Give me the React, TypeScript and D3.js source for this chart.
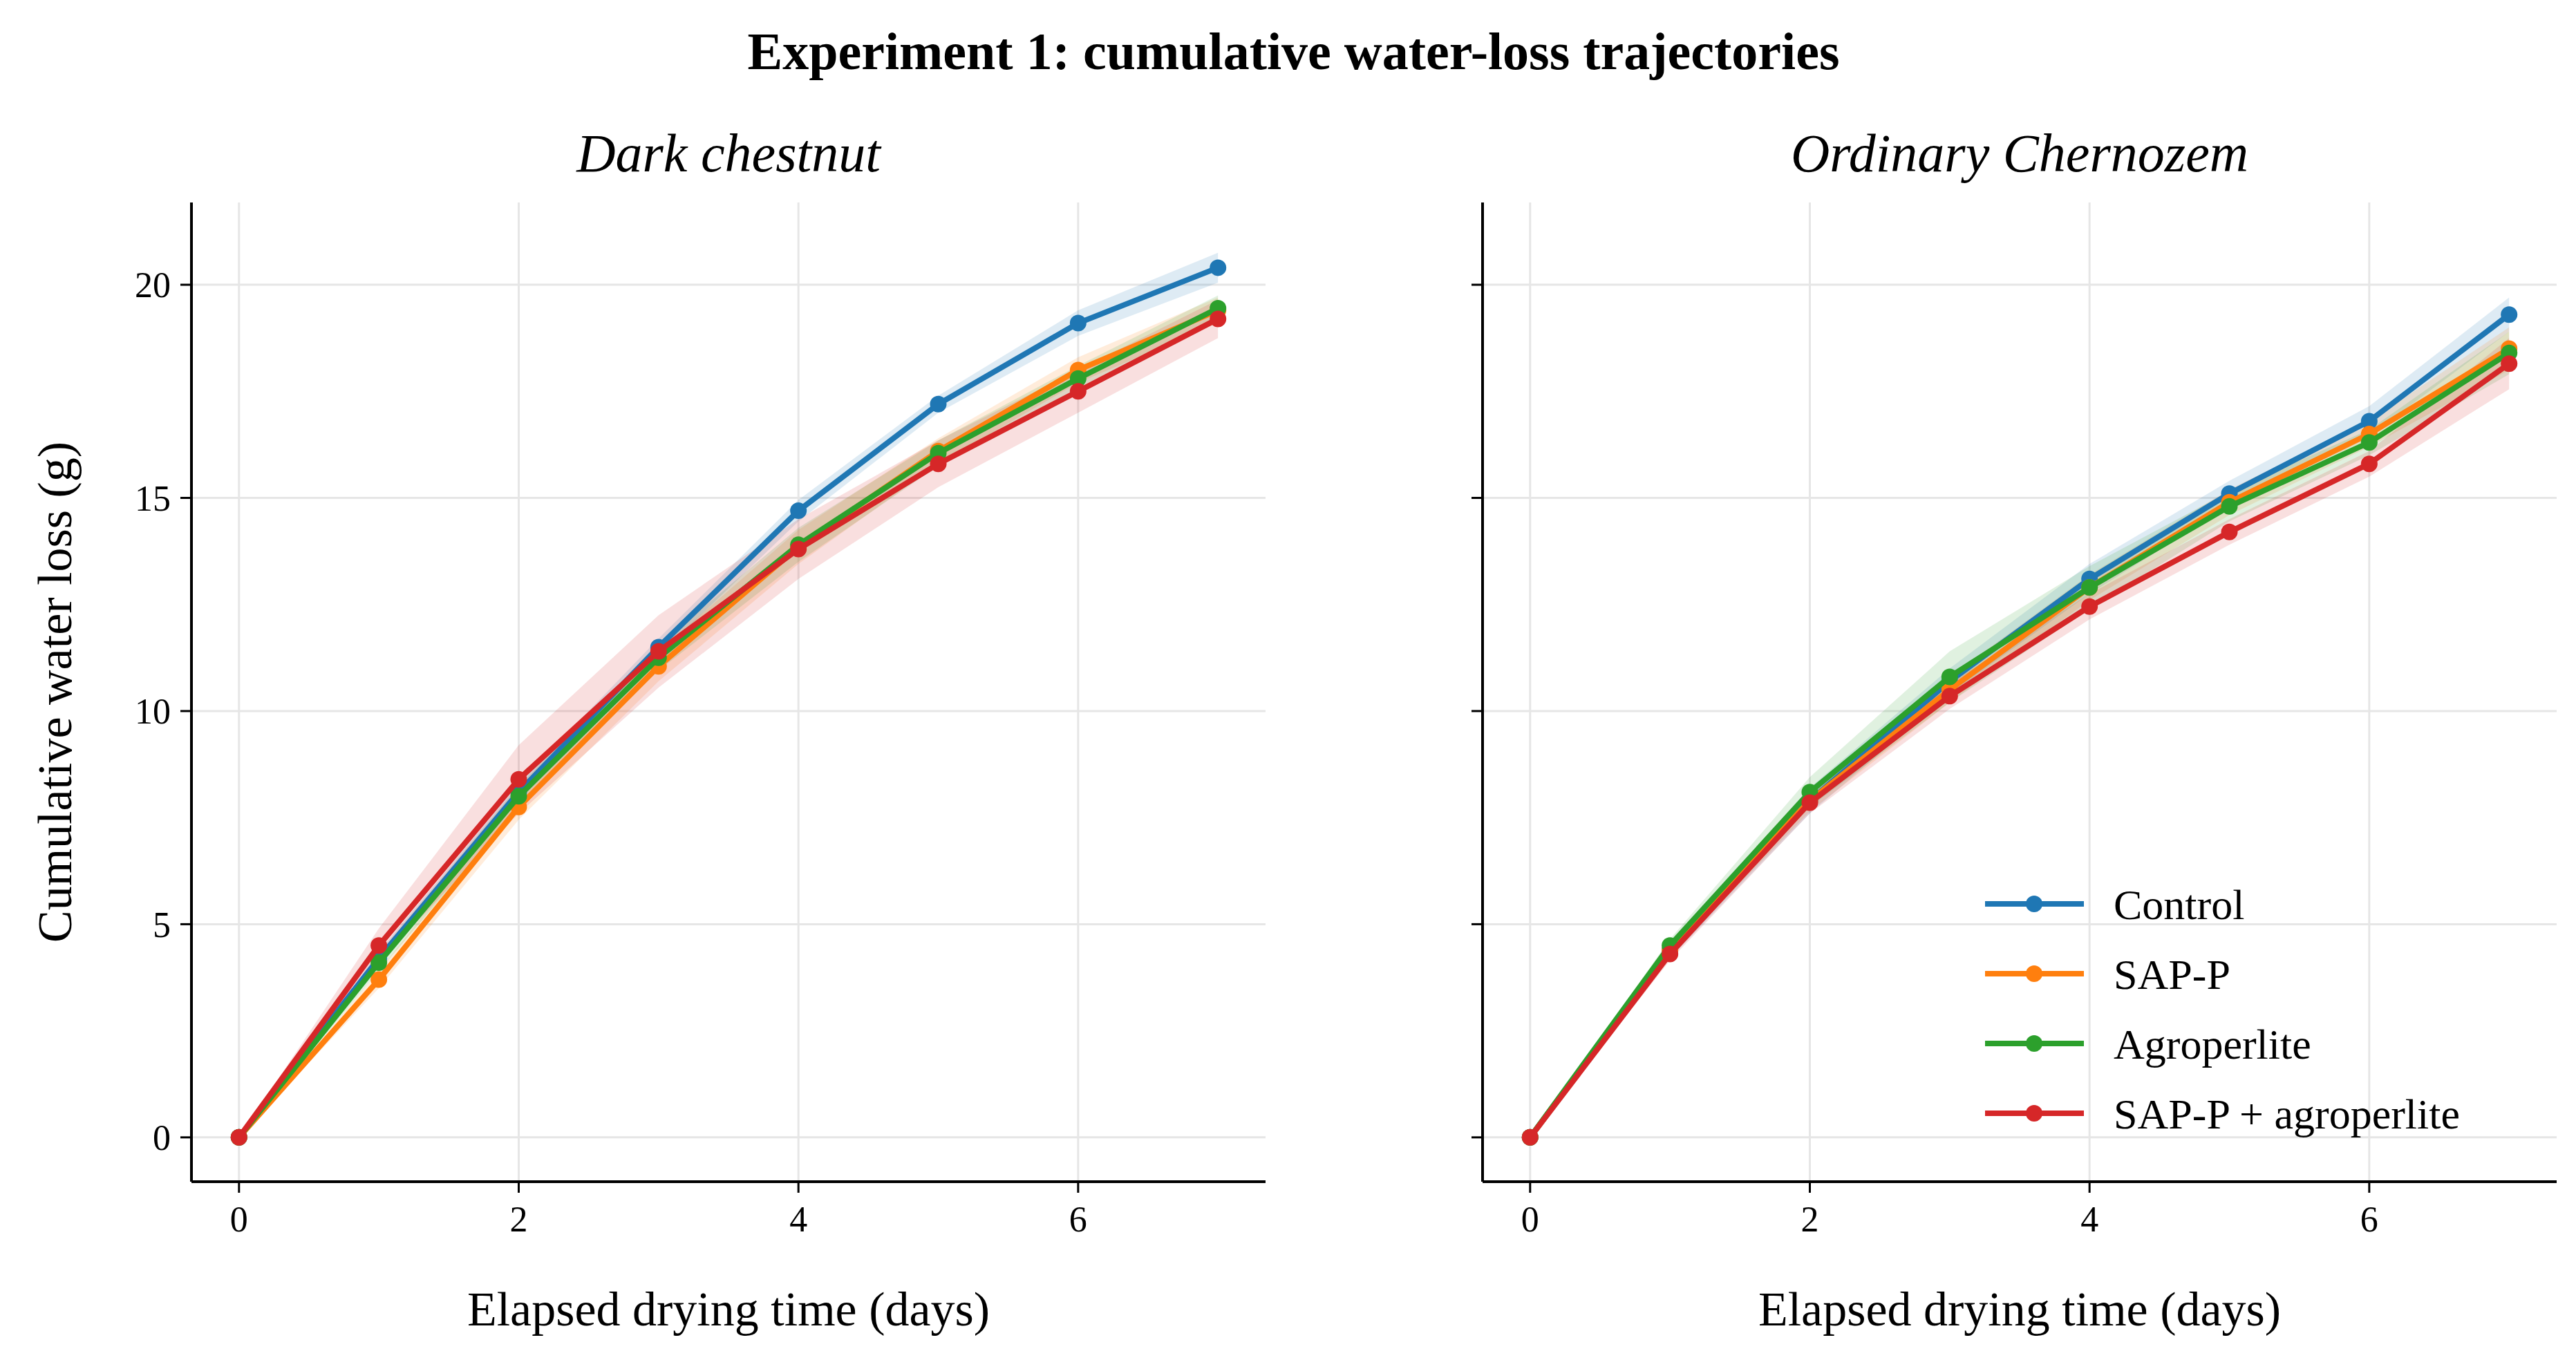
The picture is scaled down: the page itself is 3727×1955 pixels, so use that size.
import * as d3 from "d3";

const days = [0, 1, 2, 3, 4, 5, 6, 7];
const seriesNames = ["Control", "SAP-P", "Agroperlite", "SAP-P + agroperlite"];
const colors = ["#1f77b4", "#ff7f0e", "#2ca02c", "#d62728"];

const darkChestnut = [
  [0, 4.2, 8.1, 11.5, 14.7, 17.2, 19.1, 20.4],
  [0, 3.7, 7.75, 11.05, 13.85, 16.1, 18.0, 19.4],
  [0, 4.1, 8.0, 11.25, 13.9, 16.05, 17.8, 19.45],
  [0, 4.5, 8.4, 11.4, 13.8, 15.8, 17.5, 19.2],
];
const darkChestnutSd = [
  [0, 0.15, 0.2, 0.2, 0.25, 0.2, 0.3, 0.35],
  [0, 0.2, 0.3, 0.35, 0.4, 0.3, 0.3, 0.3],
  [0, 0.2, 0.25, 0.3, 0.4, 0.3, 0.3, 0.3],
  [0, 0.4, 0.8, 0.85, 0.7, 0.55, 0.5, 0.45],
];
const chernozem = [
  [0, 4.4, 7.9, 10.7, 13.1, 15.1, 16.8, 19.3],
  [0, 4.4, 7.9, 10.5, 12.9, 14.9, 16.5, 18.5],
  [0, 4.5, 8.1, 10.8, 12.9, 14.8, 16.3, 18.4],
  [0, 4.3, 7.85, 10.35, 12.45, 14.2, 15.8, 18.15],
];
const chernozemSd = [
  [0, 0.2, 0.3, 0.3, 0.35, 0.3, 0.35, 0.4],
  [0, 0.15, 0.25, 0.3, 0.3, 0.3, 0.3, 0.5],
  [0, 0.15, 0.35, 0.6, 0.5, 0.35, 0.3, 0.5],
  [0, 0.15, 0.25, 0.3, 0.3, 0.3, 0.3, 0.6],
];
const xTicks = [0, 2, 4, 6];
const yTicks = [0, 5, 10, 15, 20];

const W = 3727;
const H = 1955;
const top = 285;
const bottom = 1702;
const font = "'Liberation Serif', 'DejaVu Serif', serif";

function Panel({ x0, x1, title, values, sd, showY, legend }: any) {
  const x = d3.scaleLinear().domain([-0.34, 7.34]).range([x0, x1]);
  const y = d3.scaleLinear().domain([-1.04, 21.93]).range([bottom, top]);
  const line = d3.line<number>().x((_, i) => x(days[i])).y((v) => y(v));
  return (
    <g>
      {xTicks.map((t) => (
        <line key={"gx" + t} x1={x(t)} x2={x(t)} y1={top} y2={bottom} stroke="#e6e6e6" strokeWidth={3} />
      ))}
      {yTicks.map((t) => (
        <line key={"gy" + t} x1={x0} x2={x1} y1={y(t)} y2={y(t)} stroke="#e6e6e6" strokeWidth={3} />
      ))}
      {values.map((vals: number[], s: number) => {
        const area = d3
          .area<number>()
          .x((_, i) => x(days[i]))
          .y0((v, i) => y(v - sd[s][i]))
          .y1((v, i) => y(v + sd[s][i]));
        return <path key={"a" + s} d={area(vals) || ""} fill={colors[s]} opacity={0.15} />;
      })}
      {values.map((vals: number[], s: number) => (
        <g key={"s" + s}>
          <path d={line(vals) || ""} fill="none" stroke={colors[s]} strokeWidth={8} />
          {vals.map((v, i) => (
            <circle key={i} cx={x(days[i])} cy={y(v)} r={12} fill={colors[s]} />
          ))}
        </g>
      ))}
      <line x1={x0} x2={x0} y1={top} y2={bottom} stroke="#000" strokeWidth={4} />
      <line x1={x0} x2={x1} y1={bottom} y2={bottom} stroke="#000" strokeWidth={4} />
      {xTicks.map((t) => (
        <g key={"tx" + t}>
          <line x1={x(t)} x2={x(t)} y1={bottom} y2={bottom + 16} stroke="#000" strokeWidth={3} />
          <text x={x(t)} y={bottom + 72} textAnchor="middle" fontSize={52} fontFamily={font}>{t}</text>
        </g>
      ))}
      {yTicks.map((t) => (
        <g key={"ty" + t}>
          <line x1={x0} x2={x0 - 16} y1={y(t)} y2={y(t)} stroke="#000" strokeWidth={3} />
          {showY && (
            <text x={x0 - 30} y={y(t)} dy="0.35em" textAnchor="end" fontSize={52} fontFamily={font}>{t}</text>
          )}
        </g>
      ))}
      <text x={(x0 + x1) / 2} y={1910} textAnchor="middle" fontSize={70} fontFamily={font}>
        Elapsed drying time (days)
      </text>
      <text x={(x0 + x1) / 2} y={240} textAnchor="middle" fontSize={78} fontStyle="italic" fontFamily={font}>
        {title}
      </text>
      {showY && (
        <text
          transform={`translate(95, ${(top + bottom) / 2}) rotate(-90)`}
          textAnchor="middle"
          fontSize={70}
          fontFamily={font}
        >
          Cumulative water loss (g)
        </text>
      )}
      {legend &&
        seriesNames.map((n, i) => {
          const ly = 1300 + i * 101;
          return (
            <g key={n}>
              <line x1={2864} x2={3007} y1={ly} y2={ly} stroke={colors[i]} strokeWidth={8} />
              <circle cx={2935} cy={ly} r={12} fill={colors[i]} />
              <text x={3050} y={ly} dy="0.35em" fontSize={62} fontFamily={font}>{n}</text>
            </g>
          );
        })}
    </g>
  );
}

export default function App() {
  return (
    <svg width={W} height={H} viewBox={`0 0 ${W} ${H}`} style={{ display: "block", background: "#fff" }}>
      <rect width={W} height={H} fill="#fff" />
      <text x={W / 2} y={92} textAnchor="middle" fontSize={76} fontWeight="bold" fontFamily={font}>
        Experiment 1: cumulative water-loss trajectories
      </text>
      <Panel x0={269} x1={1823} title="Dark chestnut" values={darkChestnut} sd={darkChestnutSd} showY />
      <Panel x0={2137} x1={3691} title="Ordinary Chernozem" values={chernozem} sd={chernozemSd} legend />
    </svg>
  );
}
